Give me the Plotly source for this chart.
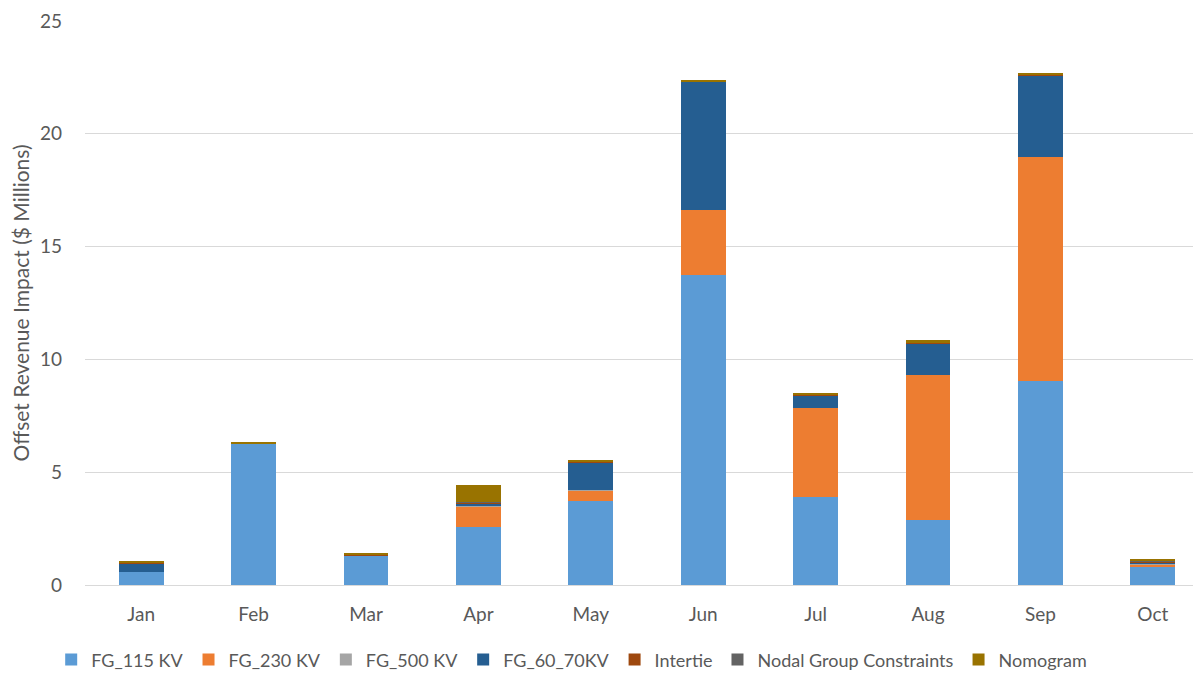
import plotly.graph_objects as go

months = ["Jan", "Feb", "Mar", "Apr", "May", "Jun", "Jul", "Aug", "Sep", "Oct"]
fg_115 = [0.59, 6.25, 1.30, 2.56, 3.72, 13.74, 3.90, 2.88, 9.04, 0.84]
fg_230 = [0.00, 0.00, 0.00, 0.90, 0.49, 2.88, 3.95, 6.42, 9.93, 0.08]
fg_500 = [0.00, 0.00, 0.00, 0.03, 0.02, 0.00, 0.00, 0.00, 0.00, 0.03]
fg_60_70 = [0.38, 0.00, 0.00, 0.13, 1.21, 5.68, 0.57, 1.41, 3.63, 0.05]
intertie = [0.02, 0.02, 0.02, 0.02, 0.02, 0.02, 0.02, 0.02, 0.02, 0.04]
nodal = [0.00, 0.00, 0.00, 0.03, 0.02, 0.00, 0.00, 0.00, 0.00, 0.04]
nomogram = [0.05, 0.08, 0.10, 0.78, 0.07, 0.06, 0.03, 0.12, 0.04, 0.06]

series = [
    ("FG_115 KV", fg_115, "#5B9BD5"),
    ("FG_230 KV", fg_230, "#ED7D31"),
    ("FG_500 KV", fg_500, "#A5A5A5"),
    ("FG_60_70KV", fg_60_70, "#255E91"),
    ("Intertie", intertie, "#9E480E"),
    ("Nodal Group Constraints", nodal, "#636363"),
    ("Nomogram", nomogram, "#997300"),
]

fig = go.Figure()
for name, vals, color in series:
    fig.add_trace(go.Bar(x=months, y=vals, name=name, marker_color=color,
                         marker_line_width=0))

font_family = "Lato, Open Sans, sans-serif"
fig.update_layout(
    barmode="stack",
    bargap=0.6,
    width=1201, height=673,
    margin=dict(l=77, r=0, t=13, b=96),
    plot_bgcolor="white", paper_bgcolor="white",
    font=dict(family=font_family, size=19, color="#595959"),
    legend=dict(orientation="h", x=0.433, xanchor="center", y=-0.1, yanchor="top",
                font=dict(size=18, color="#595959"), traceorder="normal",
                itemwidth=30),
    xaxis=dict(range=[-0.5, 9.5], showline=True, linecolor="#D9D9D9", linewidth=1,
               ticks="", tickfont=dict(size=19, color="#595959"), showgrid=False,
               automargin=False, ticklabelstandoff=12),
    yaxis=dict(range=[0, 25], dtick=5, showgrid=True, gridcolor="#D9D9D9",
               zeroline=False, ticks="", tickfont=dict(size=19, color="#595959"),
               automargin=False, ticklabelstandoff=22,
               title=dict(text="Offset Revenue Impact ($ Millions)",
                          font=dict(size=21, color="#595959"), standoff=16)),
    showlegend=True,
)

fig.write_html("out.html")
